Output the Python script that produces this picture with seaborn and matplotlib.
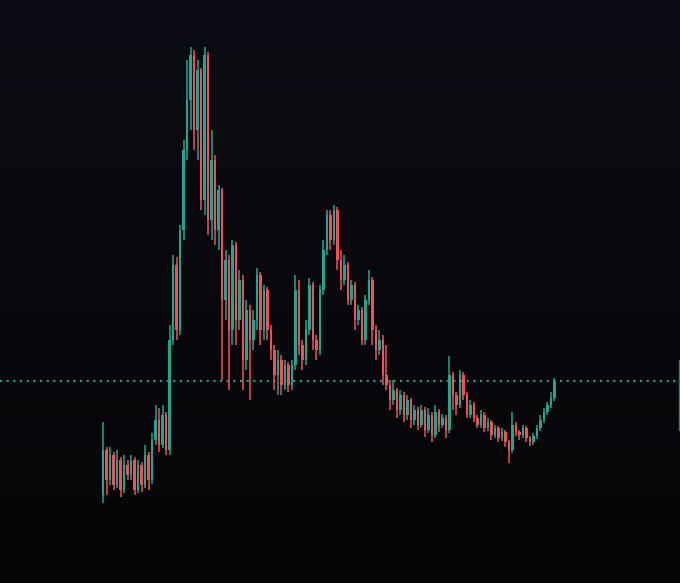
import numpy as np
import seaborn as sns
import matplotlib
matplotlib.use("Agg")
import matplotlib.pyplot as plt
from matplotlib.colors import LinearSegmentedColormap

# Candle data (price units)
opens = [105, 150, 120, 145, 115, 140, 110, 135, 125, 140,
         110, 135, 115, 145, 120, 160, 180, 155, 185, 150,
         260, 335, 270, 370, 450, 500, 545, 470, 530, 400,
         545, 380, 440, 370, 410, 300, 340, 270, 355, 280,
         320, 240, 290, 260, 280, 325, 270, 310, 270, 250,
         225, 240, 215, 235, 215, 235, 310, 255, 240, 270,
         315, 260, 250, 310, 350, 385, 360, 390, 340, 320,
         335, 300, 315, 280, 290, 260, 300, 320, 270, 250,
         260, 225, 215, 200, 210, 190, 205, 185, 200, 180,
         190, 175, 190, 170, 185, 165, 188, 175, 182, 170,
         225, 205, 195, 225, 205, 185, 195, 182, 175, 185,
         172, 178, 165, 172, 162, 168, 158, 150, 175, 168,
         165, 172, 162, 158, 164, 172, 180, 188, 195, 202]
highs = [178, 153, 153, 148, 150, 143, 145, 140, 145, 143,
         140, 138, 155, 148, 167, 195, 192, 195, 188, 275,
         345, 343, 375, 460, 540, 553, 550, 540, 532, 553,
         548, 470, 445, 415, 412, 350, 345, 360, 358, 330,
         325, 300, 295, 290, 332, 328, 315, 313, 275, 255,
         250, 245, 240, 238, 240, 325, 320, 260, 280, 322,
         318, 265, 315, 360, 390, 390, 395, 393, 350, 345,
         338, 320, 318, 295, 293, 305, 330, 323, 275, 270,
         265, 255, 220, 220, 212, 210, 208, 205, 202, 195,
         193, 195, 193, 192, 188, 195, 191, 186, 185, 244,
         228, 208, 230, 228, 208, 200, 198, 185, 190, 188,
         182, 180, 175, 174, 172, 170, 160, 188, 178, 170,
         175, 174, 164, 167, 175, 185, 192, 198, 208, 222]
lows = [97, 105, 115, 110, 112, 103, 107, 120, 120, 105,
        107, 108, 112, 110, 116, 155, 148, 152, 145, 145,
        255, 260, 265, 360, 440, 470, 450, 440, 390, 385,
        365, 360, 355, 350, 220, 280, 210, 255, 255, 270,
        210, 230, 200, 250, 270, 255, 260, 260, 240, 210,
        205, 205, 210, 208, 210, 230, 245, 230, 235, 265,
        250, 240, 245, 305, 345, 350, 355, 330, 310, 315,
        295, 295, 270, 275, 255, 255, 295, 255, 240, 245,
        215, 210, 190, 195, 182, 185, 178, 180, 172, 175,
        170, 172, 163, 167, 158, 162, 168, 172, 162, 167,
        190, 185, 192, 200, 182, 182, 178, 172, 172, 168,
        169, 160, 162, 158, 159, 153, 137, 147, 164, 160,
        162, 158, 154, 155, 161, 169, 177, 185, 192, 199]
closes = [150, 120, 145, 115, 140, 110, 135, 125, 140, 110,
          135, 115, 145, 120, 160, 180, 155, 185, 150, 260,
          335, 270, 370, 450, 500, 545, 470, 530, 400, 545,
          380, 440, 370, 410, 300, 340, 270, 355, 280, 320,
          240, 290, 260, 280, 325, 270, 310, 270, 250, 225,
          240, 215, 235, 215, 235, 310, 255, 240, 270, 315,
          260, 250, 310, 350, 385, 360, 390, 340, 320, 335,
          300, 315, 280, 290, 260, 300, 320, 270, 250, 260,
          225, 215, 200, 210, 190, 205, 185, 200, 180, 190,
          175, 190, 170, 185, 165, 188, 175, 182, 170, 225,
          205, 195, 225, 205, 185, 195, 182, 175, 185, 172,
          178, 165, 172, 162, 168, 158, 150, 175, 168, 165,
          172, 162, 158, 164, 172, 180, 188, 195, 202, 219]

UP_COLOR = "#22a68f"
DOWN_COLOR = "#f0505c"

sns.set_theme(style="dark", rc={"axes.facecolor": "#0a0a10",
                                "figure.facecolor": "#0a0a10"})

fig = plt.figure(figsize=(6.8, 5.83), dpi=100)
ax = fig.add_axes([0, 0, 1, 1])

# dark background, slightly lighter at the top
bg = LinearSegmentedColormap.from_list("bg", ["#050507", "#0c0c14"])
ax.imshow(np.linspace(0, 1, 256).reshape(-1, 1), cmap=bg, aspect="auto",
          extent=[0, 1, 0, 1], transform=ax.transAxes, origin="lower", zorder=0)

idx = np.arange(len(closes))
o = np.array(opens)
c = np.array(closes)
colors = [UP_COLOR if cc >= oo else DOWN_COLOR for oo, cc in zip(o, c)]

# wicks and bodies
ax.vlines(idx, lows, highs, colors=colors, linewidth=1.1, zorder=2)
ax.bar(idx, np.abs(c - o), bottom=np.minimum(o, c), width=0.82,
       color=colors, linewidth=0, zorder=3)

# last price line
ax.axhline(closes[-1], color=UP_COLOR, linewidth=1.5,
           linestyle=(0, (1, 2.2)), dash_capstyle="butt", zorder=1)
ax.plot([0.999, 0.999], [0.262, 0.382], color=UP_COLOR, linewidth=1.0,
        alpha=0.8, transform=ax.transAxes, zorder=4)

ax.set_xlim(-29.43, 164.86)
ax.set_ylim(17, 600)
ax.set_axis_off()

plt.savefig("out.png", dpi=100, facecolor="#0a0a10")
